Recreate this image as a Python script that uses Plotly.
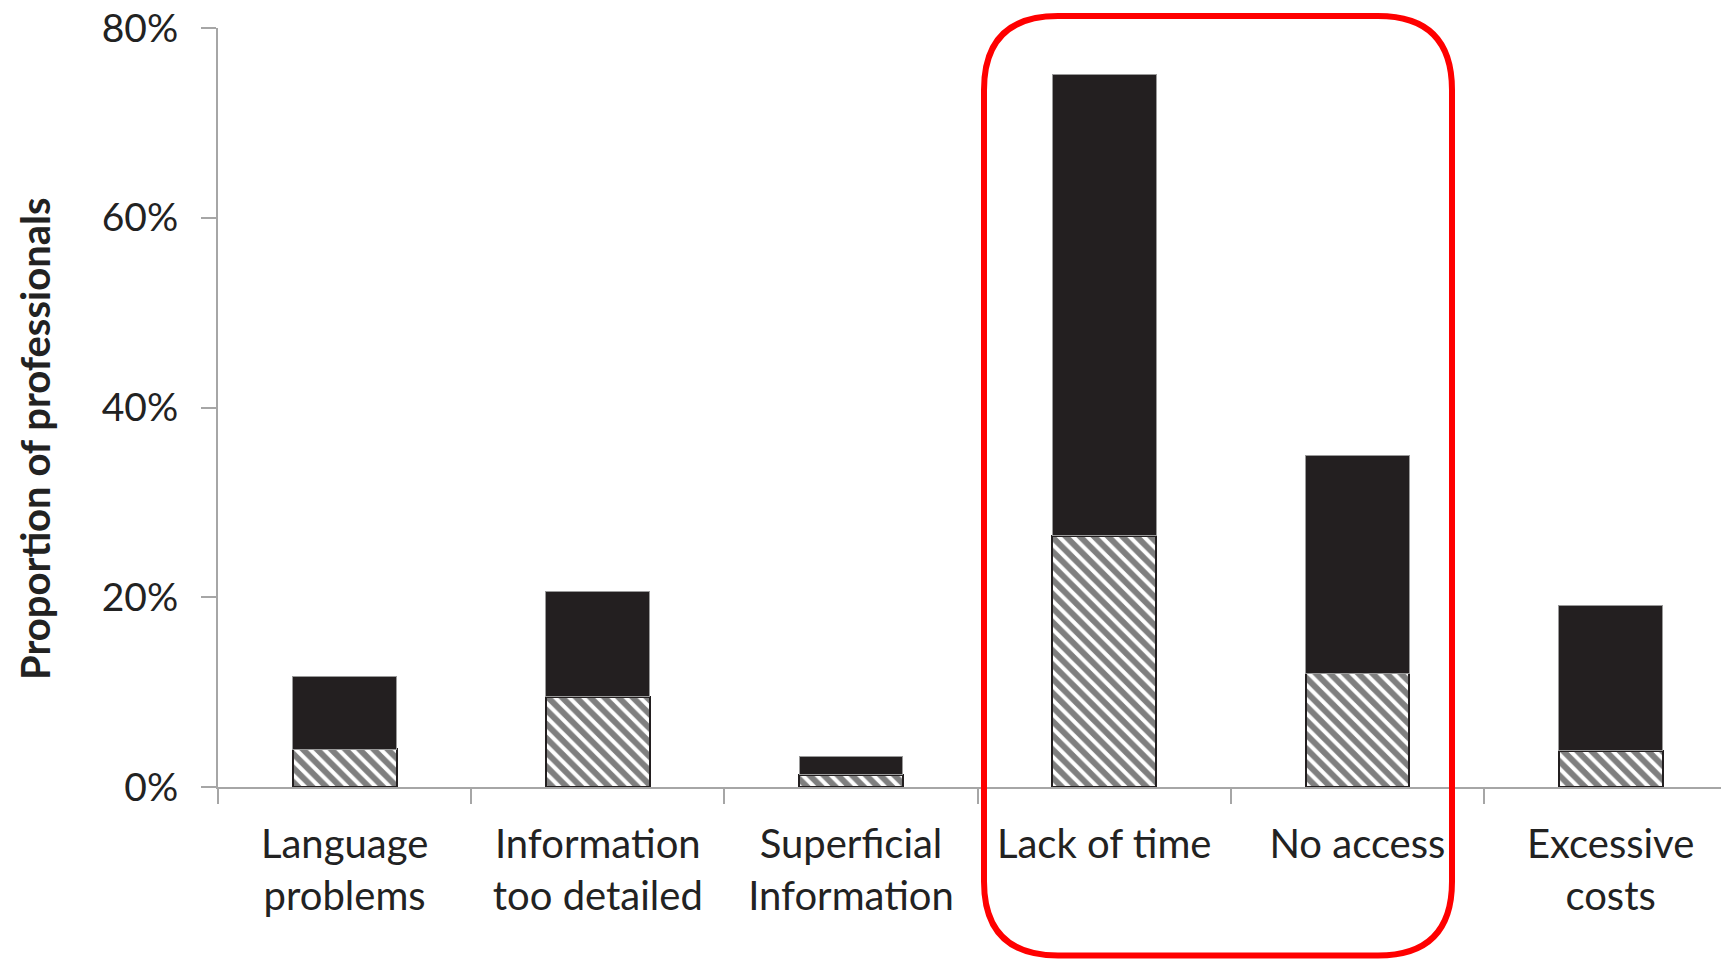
import plotly.graph_objects as go

categories = ["Language<br>problems", "Information<br>too detailed", "Superficial<br>Information",
              "Lack of time", "No access", "Excessive<br>costs"]
hatched_values = [4.0, 9.5, 1.3, 26.5, 12.0, 3.8]
total_values = [11.7, 20.6, 3.2, 75.1, 34.9, 19.1]
solid_values = [round(t - h, 2) for t, h in zip(total_values, hatched_values)]
y_ticks = [0, 20, 40, 60, 80]
y_ticktext = ["0%", "20%", "40%", "60%", "80%"]

W, H = 1721, 959
L, R, T, B = 218, 0, 28, 172
PW, PH = W - L - R, H - T - B

FONT = "Lato"
TXT = "#222222"
AX = "#a6a6a6"

fig = go.Figure()
fig.add_trace(go.Bar(
    x=categories, y=hatched_values, width=0.41,
    marker=dict(color="white", line=dict(color="#231f20", width=2),
                pattern=dict(shape="\\", fgcolor="#000000", bgcolor="white", size=10, solidity=0.6)),
    showlegend=False, hoverinfo="skip"))
fig.add_trace(go.Bar(
    x=categories, y=solid_values, width=0.41,
    marker=dict(color="#231f20", line=dict(color="#9a9a9a", width=1)),
    showlegend=False, hoverinfo="skip"))


def px(x):
    return (x - L) / PW


def py(y):
    return (H - B - y) / PH


x0, x1, y0, y1, r = 984, 1452, 16, 955.5, 74
rx, ry = r / PW, r / PH
X0, X1, Y0, Y1 = px(x0), px(x1), py(y0), py(y1)
path = (f"M {X0+rx},{Y0} L {X1-rx},{Y0} Q {X1},{Y0} {X1},{Y0-ry} "
        f"L {X1},{Y1+ry} Q {X1},{Y1} {X1-rx},{Y1} "
        f"L {X0+rx},{Y1} Q {X0},{Y1} {X0},{Y1+ry} "
        f"L {X0},{Y0-ry} Q {X0},{Y0} {X0+rx},{Y0} Z")
fig.add_shape(type="path", path=path, xref="paper", yref="paper",
              line=dict(color="#ff0000", width=6), fillcolor="rgba(0,0,0,0)")

fig.add_annotation(text="<b>Proportion of professionals</b>", textangle=-90,
                   xref="paper", yref="paper", x=px(35), y=py(439), showarrow=False,
                   font=dict(family=FONT, size=40, color=TXT), xanchor="center", yanchor="middle")

fig.update_layout(
    width=W, height=H, barmode="stack",
    margin=dict(l=L, r=R, t=T, b=B, pad=0, autoexpand=False),
    plot_bgcolor="white", paper_bgcolor="white",
    font=dict(family=FONT, size=40, color=TXT),
    xaxis=dict(type="category", range=[-0.5, 5.436], showgrid=False, showline=True,
               linecolor=AX, linewidth=2, ticks="outside", tickson="boundaries",
               ticklen=15, tickcolor=AX, tickwidth=2, ticklabelstandoff=21,
               ticklabeloverflow="allow", automargin=False,
               tickfont=dict(family=FONT, size=40, color=TXT)),
    yaxis=dict(range=[0, 80], tickvals=y_ticks, ticktext=y_ticktext, showgrid=False,
               showline=True, linecolor=AX, linewidth=2, ticks="outside", ticklen=15,
               tickcolor=AX, tickwidth=2, zeroline=False, ticklabelstandoff=15,
               ticklabeloverflow="allow", automargin=False,
               tickfont=dict(family=FONT, size=39, color=TXT)),
)

fig.write_html("out.html", config={"displayModeBar": False},
               post_script="document.body.style.margin='0';document.body.style.overflow='hidden';")
